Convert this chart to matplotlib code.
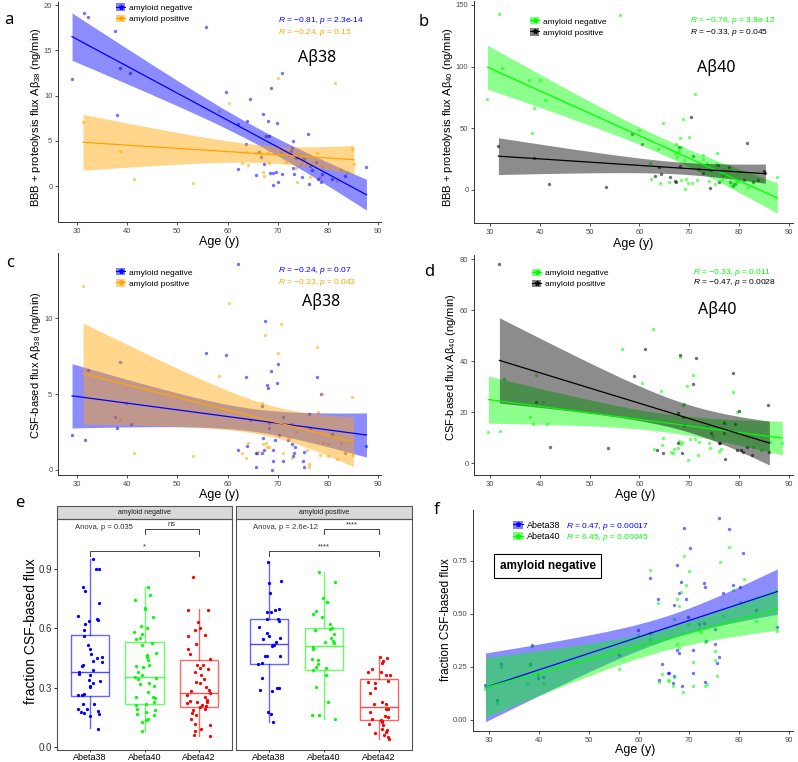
import numpy as np
import matplotlib
matplotlib.use("Agg")
import matplotlib.pyplot as plt
from matplotlib.patches import Patch, Rectangle
from matplotlib.lines import Line2D

W, H = 798, 762
T_CRIT = 2.01

BLUE = "#0000FF"
ORANGE = "#FFA500"
GREEN = "#00FF00"
BLACK = "#000000"
RED = "#FF0000"

# ---- panel a: BBB + proteolysis flux Abeta38 ----
a_neg_age = [29.0, 31.3, 32.1, 37.5, 38.0, 38.5, 40.6, 55.8, 59.7, 62.0, 62.1, 63.7, 63.8, 64.5,
             65.6, 66.2, 66.7, 67.1, 67.3, 67.6, 68.1, 68.2, 68.5, 68.6, 69.0, 69.1, 69.6, 69.9,
             70.1, 70.9, 70.9, 72.6, 72.9, 73.0, 73.1, 73.2, 73.6, 74.9, 75.2, 76.1, 76.2, 76.4,
             76.9, 77.7, 78.0, 78.7, 78.9, 80.9, 83.4, 87.7]
a_neg_val = [11.8, 19.1, 18.7, 17.2, 7.9, 13.1, 12.5, 17.6, 10.4, 6.9, 1.9, 4.7, 7.2, 9.6,
             1.2, 3.8, 3.2, 8.0, 2.5, 5.5, 7.2, 5.5, 1.5, 10.9, 0.1, 1.5, 1.6, 7.0,
             0.5, 12.5, 1.3, 3.9, 4.2, 5.0, 2.0, 1.4, 3.1, 1.0, 3.0, 5.8, 0.3, 2.2,
             1.8, 2.7, 0.8, 0.5, 1.4, 0.8, 1.1, 2.1]
a_pos_age = [31.2, 38.5, 41.4, 53.1, 58.3, 60.3, 62.8, 63.7, 64.1, 65.7, 66.6, 67.1, 67.2, 67.5,
             68.0, 68.3, 70.0, 70.7, 71.6, 72.2, 73.7, 73.9, 74.1, 74.6, 75.1, 75.6, 76.4, 77.9,
             78.4, 78.9, 81.4, 81.9, 82.7, 83.9, 84.9, 85.2]
a_pos_val = [7.1, 3.9, 0.8, 0.4, 8.3, 9.2, 2.6, 3.8, 2.4, 3.7, 3.6, 1.6, 1.1, 5.6,
             3.8, 2.6, 12.0, 3.8, 2.7, 3.4, 2.0, 0.5, 3.4, 2.5, 3.2, 2.5, 1.0, 3.7,
             1.0, 2.1, 11.4, 0.6, 1.8, 1.6, 4.1, 2.5]

# ---- panel b: BBB + proteolysis flux Abeta40 ----
b_neg_age = [29.5, 31.8, 32.5, 37.9, 38.4, 38.8, 40.1, 41.0, 56.1, 60.0, 62.2, 62.4, 63.8, 64.2,
             64.7, 65.9, 67.2, 67.3, 67.6, 67.9, 68.1, 68.3, 68.3, 68.8, 68.9, 69.2, 69.3, 69.8,
             70.0, 70.5, 71.1, 71.6, 72.8, 72.7, 73.6, 73.9, 75.2, 75.4, 75.6, 76.5, 76.8, 78.4,
             78.8, 79.3, 79.8, 81.9, 82.8, 87.7]
b_neg_val = [73.5, 143, 99, 89, 46.5, 66.5, 89.5, 72.7, 142, 48.6, 22, 9, 33, 6,
             54, 6.5, 30, 37, 27, 31.6, 42, 35, 8, 57.6, 24, 1, 9, 5.4,
             43, 6, 78, 8, 28.6, 25, 22, 7, 5, 20.8, 30, 8, 12, 4,
             6, 7.6, 6.8, 2.7, 6.8, 10.8]
b_pos_age = [31.7, 38.9, 41.8, 53.3, 58.6, 60.6, 63.2, 63.9, 64.3, 66.1, 67.2, 67.4, 67.9, 68.1,
             70.3, 70.8, 71.9, 72.7, 74.1, 74.3, 75.8, 76.0, 78.0, 78.2, 78.7, 79.2, 81.0, 81.7,
             82.8, 83.9, 85.0, 85.3]
b_pos_val = [35.7, 26, 5.1, 2.4, 45, 37.3, 11.6, 19, 12.7, 10.8, 7.6, 6.8, 34.9, 19.7,
             59, 27.6, 16.8, 14, 1.4, 16, 20.5, 6.5, 18.4, 6.8, 3.2, 4.6, 8, 37.8,
             6.8, 8, 15.7, 14]

# ---- panel c: CSF-based flux Abeta38 ----
c_neg_age = [29.0, 31.5, 32.1, 37.5, 38.0, 38.5, 39.8, 40.7, 55.8, 59.7, 62.0, 62.1, 63.7, 63.8,
             64.5, 65.6, 65.9, 66.8, 66.9, 67.1, 67.2, 67.5, 67.9, 68.1, 68.3, 68.3, 68.6, 69.0,
             69.1, 69.4, 69.8, 70.0, 70.2, 71.0, 71.0, 72.1, 72.7, 72.9, 73.1, 73.3, 73.4, 75.1,
             75.3, 76.2, 76.5, 77.9, 78.7, 80.9, 83.4, 87.7, 65.6, 68.9, 75.2]
c_neg_val = [2.3, 2.0, 6.6, 3.5, 2.8, 7.1, 4.4, 3.0, 7.7, 7.6, 13.6, 1.3, 6.1, 1.6,
             3.3, 1.1, 1.1, 1.1, 4.2, 2.1, 1.3, 9.8, 5.6, 5.4, 3.1, 2.8, 6.5, 0.6,
             1.3, 2.0, 5.7, 7.0, 2.3, 3.5, 0.6, 2.0, 3.0, 1.7, 0.9, 1.1, 1.5, 0.6,
             1.2, 3.7, 2.8, 6.1, 5.0, 2.4, 1.1, 1.6, 0.2, 0.0, 0.2]
c_pos_age = [31.2, 38.5, 41.4, 53.1, 58.3, 60.3, 62.8, 63.7, 64.1, 66.0, 66.8, 67.1, 67.5, 67.7,
             67.9, 68.3, 70.1, 70.7, 71.0, 72.3, 72.9, 73.6, 75.9, 76.2, 77.9, 78.0, 78.4, 78.9,
             79.0, 80.1, 80.1, 81.9, 82.7, 83.4, 84.9, 85.1, 76.3]
c_pos_val = [12.1, 3.3, 1.1, 0.9, 6.2, 11.0, 1.1, 0.8, 1.8, 1.2, 4.4, 1.7, 8.9, 1.8,
             1.5, 1.5, 7.7, 9.6, 1.1, 2.1, 0.8, 2.5, 1.3, 0.4, 8.1, 3.8, 1.0, 5.0,
             1.8, 1.7, 0.9, 0.7, 1.8, 1.1, 4.8, 1.0, 0.2]

# ---- panel d: CSF-based flux Abeta40 ----
d_neg_age = [29.7, 32.0, 32.9, 38.0, 38.7, 39.2, 40.6, 41.4, 56.6, 60.5, 62.8, 63.0, 64.4, 64.6,
             64.8, 66.4, 66.7, 66.9, 67.8, 68.0, 68.1, 68.3, 68.6, 68.8, 68.9, 69.5, 69.7, 70.1,
             70.7, 71.1, 71.7, 72.0, 73.6, 74.0, 74.1, 74.7, 76.0, 76.3, 76.9, 78.8, 79.5, 81.8,
             82.8, 84.4, 86.2, 88.7]
d_neg_val = [12.2, 12.8, 33, 18.0, 15.6, 34.8, 23.9, 15.6, 45, 31.6, 52.7, 5.5, 28.5, 7.2,
             9.8, 4.6, 4.2, 5.5, 5.9, 8.9, 41.5, 7.6, 8.4, 22.7, 23.3, 30.5, 1.3, 9.5,
             34.5, 9.4, 3.4, 8.5, 14.6, 7.8, 5.8, 10.8, 4.8, 5.5, 16.1, 27.8, 20.3, 10.5,
             6.5, 5.2, 8.5, 7.8]
d_pos_age = [31.9, 39.2, 42.0, 53.7, 59.0, 61.1, 63.6, 64.8, 67.7, 67.8, 68.1, 68.5, 68.8, 68.9,
             70.8, 71.4, 74.4, 76.0, 76.1, 77.0, 77.0, 77.1, 78.8, 79.2, 79.9, 79.5, 80.5, 80.8,
             81.6, 82.7, 85.8, 86.1]
d_pos_val = [78.2, 23.9, 6.5, 6.0, 34.1, 44.7, 5.2, 3.9, 19.6, 7.8, 42.5, 4.2, 18.0, 14.9,
             31, 41.2, 12, 7.8, 7.8, 11.8, 15.7, 1.8, 35.3, 15.4, 20.7, 5.2, 5.2, 4.4,
             6.5, 3.3, 22.9, 4.6]

# ---- panel e: fraction CSF-based flux, boxplots ----
box_labels = ["Abeta38", "Abeta40", "Abeta42"]
e_neg_38 = [0.951, 0.900, 0.900, 0.811, 0.788, 0.729, 0.664, 0.642, 0.648, 0.639, 0.622, 0.594,
            0.563, 0.516, 0.496, 0.470, 0.454, 0.450, 0.432, 0.428, 0.415, 0.411, 0.391, 0.378,
            0.369, 0.364, 0.336, 0.331, 0.324, 0.310, 0.302, 0.268, 0.263, 0.260, 0.218, 0.214,
            0.189, 0.189, 0.180, 0.175, 0.172, 0.167, 0.155, 0.091]
e_neg_40 = [0.811, 0.769, 0.744, 0.702, 0.698, 0.659, 0.610, 0.600, 0.583, 0.572, 0.550, 0.546,
            0.526, 0.513, 0.474, 0.467, 0.454, 0.437, 0.415, 0.410, 0.403, 0.378, 0.361, 0.352,
            0.347, 0.344, 0.324, 0.319, 0.310, 0.277, 0.251, 0.251, 0.246, 0.226, 0.218, 0.209,
            0.192, 0.184, 0.175, 0.167, 0.159, 0.142, 0.133, 0.125, 0.081]
e_neg_42 = [0.862, 0.693, 0.693, 0.634, 0.600, 0.594, 0.567, 0.560, 0.521, 0.496, 0.470, 0.445,
            0.415, 0.415, 0.398, 0.395, 0.381, 0.361, 0.344, 0.327, 0.324, 0.302, 0.285, 0.280,
            0.273, 0.263, 0.251, 0.239, 0.234, 0.229, 0.226, 0.221, 0.212, 0.206, 0.201, 0.192,
            0.184, 0.172, 0.159, 0.142, 0.116, 0.108, 0.091, 0.078, 0.057, 0.054]
e_pos_38 = [0.938, 0.841, 0.828, 0.777, 0.698, 0.695, 0.685, 0.681, 0.648, 0.648, 0.639, 0.607,
            0.577, 0.563, 0.550, 0.546, 0.530, 0.516, 0.513, 0.509, 0.462, 0.462, 0.459, 0.425,
            0.420, 0.347, 0.297, 0.297, 0.285, 0.282, 0.175, 0.164, 0.125]
e_pos_40 = [0.884, 0.836, 0.752, 0.735, 0.732, 0.690, 0.673, 0.656, 0.622, 0.600, 0.597, 0.589,
            0.572, 0.550, 0.538, 0.530, 0.526, 0.504, 0.496, 0.445, 0.437, 0.420, 0.403, 0.398,
            0.391, 0.361, 0.302, 0.226, 0.162, 0.159, 0.138]
e_pos_42 = [0.457, 0.449, 0.432, 0.425, 0.395, 0.381, 0.378, 0.364, 0.361, 0.331, 0.327, 0.324,
            0.297, 0.271, 0.229, 0.218, 0.214, 0.192, 0.189, 0.175, 0.155, 0.150, 0.142, 0.133,
            0.128, 0.125, 0.116, 0.108, 0.091, 0.083, 0.074, 0.071, 0.057, 0.049, 0.040]
# whisker low, q1, median, q3, whisker high
e_neg_stats = [(0.093, 0.255, 0.378, 0.567, 0.951),
               (0.081, 0.214, 0.351, 0.533, 0.811),
               (0.054, 0.199, 0.273, 0.437, 0.696)]
e_pos_stats = [(0.125, 0.420, 0.523, 0.648, 0.938),
               (0.138, 0.391, 0.511, 0.604, 0.884),
               (0.040, 0.135, 0.200, 0.341, 0.457)]

# ---- panel f: fraction CSF-based flux vs age, amyloid negative ----
f_age = [29.3, 31.7, 32.5, 38.2, 38.7, 39.9, 40.8, 55.95, 59.9, 62.2, 62.2, 63.9, 64.0, 64.6,
         65.8, 66.1, 66.9, 67.0, 67.1, 67.6, 67.7, 68.1, 68.1, 68.4, 68.7, 69.1, 69.5, 69.8,
         70.3, 70.9, 70.9, 72.1, 73.1, 73.1, 73.3, 73.5, 73.3, 75.2, 75.3, 75.6, 76.1, 76.1,
         76.8, 78.1, 78.8, 80.2, 80.8, 83.5, 87.7]
f_38 = [0.165, 0.094, 0.264, 0.264, 0.354, 0.198, 0.200, 0.307, 0.423, 0.407, 0.667, 0.568, 0.187, 0.261,
        0.219, 0.219, 0.173, 0.539, 0.206, 0.327, 0.730, 0.314, 0.599, 0.651, 0.159, 0.903, 0.568, 0.484,
        0.811, 0.327, 0.219, 0.450, 0.458, 0.646, 0.627, 0.371, 0.178, 0.358, 0.429, 0.266, 0.297, 0.950,
        0.599, 0.901, 0.638, 0.627, 0.788, 0.519, 0.439]
f_age40 = [29.3, 31.7, 32.5, 37.7, 38.2, 38.7, 39.9, 40.8, 55.95, 59.9, 62.2, 62.2, 63.9, 64.0,
           64.6, 65.8, 66.1, 67.0, 66.9, 67.1, 67.6, 67.7, 68.1, 68.1, 68.4, 68.8, 69.1, 69.5,
           69.8, 70.1, 70.9, 70.9, 72.1, 72.5, 73.3, 73.3, 73.6, 75.2, 75.3, 75.6, 76.2, 76.8,
           78.1, 78.8, 80.2, 81.0, 83.5, 87.7]
f_40 = [0.143, 0.080, 0.250, 0.170, 0.256, 0.346, 0.211, 0.173, 0.241, 0.398, 0.379, 0.706, 0.550, 0.179,
        0.217, 0.187, 0.182, 0.475, 0.157, 0.203, 0.355, 0.569, 0.535, 0.340, 0.602, 0.130, 0.772, 0.634,
        0.450, 0.704, 0.270, 0.157, 0.421, 0.412, 0.368, 0.157, 0.170, 0.322, 0.283, 0.206, 0.745, 0.489,
        0.814, 0.612, 0.555, 0.664, 0.464, 0.418]


def add_px_axes(fig, left, top, right, bottom):
    return fig.add_axes([left / W, 1 - bottom / H, (right - left) / W, (bottom - top) / H])


def ftext(fig, x, y, s, **kw):
    return fig.text(x / W, 1 - y / H, s, **kw)


def fit_band(x, y):
    x = np.asarray(x, float)
    y = np.asarray(y, float)
    grid = np.linspace(x.min(), x.max(), 80)
    slope, icpt = np.polyfit(x, y, 1)
    n = len(x)
    resid = y - (icpt + slope * x)
    s = np.sqrt(np.sum(resid ** 2) / (n - 2))
    xm = x.mean()
    se = s * np.sqrt(1 / n + (grid - xm) ** 2 / np.sum((x - xm) ** 2))
    fit = icpt + slope * grid
    return grid, fit, fit - T_CRIT * se, fit + T_CRIT * se


def style_axes(ax, xlim, ylim, xticks, yticks, yfmt=None):
    ax.set_xlim(*xlim)
    ax.set_ylim(*ylim)
    ax.set_xticks(xticks)
    ax.set_yticks(yticks)
    if yfmt:
        ax.set_yticklabels([yfmt.format(v) for v in yticks])
    for side in ["top", "right"]:
        ax.spines[side].set_visible(False)
    for side in ["left", "bottom"]:
        ax.spines[side].set_color("#333333")
        ax.spines[side].set_linewidth(0.7)
    ax.tick_params(labelsize=5.5, labelcolor="#4D4D4D", color="#333333", length=2, width=0.6, pad=2)


def scatter_fit(ax, groups):
    for age, val, col in groups:
        ax.scatter(age, val, s=6, color=col, alpha=0.55, linewidths=0, zorder=1)
    for age, val, col in groups:
        grid, fit, lo, hi = fit_band(age, val)
        ax.fill_between(grid, lo, hi, color=col, alpha=0.45, linewidth=0, zorder=2)
    for age, val, col in groups:
        grid, fit, lo, hi = fit_band(age, val)
        ax.plot(grid, fit, color=col, lw=0.9, zorder=3)


def add_legend(fig, ax, x, y, entries, fs=6):
    handles = [(Patch(facecolor=c, alpha=0.5, edgecolor="none"),
                Line2D([], [], color=c, lw=0.8, marker="*", ms=3.5)) for _, c in entries]
    ax.legend(handles, [lab for lab, _ in entries], loc="upper left",
              bbox_to_anchor=(x / W, 1 - y / H), bbox_transform=fig.transFigure,
              frameon=False, fontsize=fs, handlelength=1.1, handleheight=1.0,
              labelspacing=0.3, handletextpad=0.45, borderpad=0, borderaxespad=0)


def box_panel(ax, stats, points, strip, anova, anova_x, sig_a, sig_b, rng, show_y):
    cols = [BLUE, GREEN, RED]
    bstats = []
    for wl, q1, med, q3, wh in stats:
        bstats.append({"whislo": wl, "q1": q1, "med": med, "q3": q3, "whishi": wh, "fliers": []})
    parts = ax.bxp(bstats, positions=[1, 2, 3], widths=0.7, showfliers=False, showcaps=False,
                   patch_artist=True)
    for i, c in enumerate(cols):
        parts["boxes"][i].set(facecolor="none", edgecolor=c, alpha=0.6, linewidth=1.0)
        parts["medians"][i].set(color=c, alpha=0.7, linewidth=1.0)
        for w in parts["whiskers"][2 * i:2 * i + 2]:
            w.set(color=c, alpha=0.6, linewidth=1.0)
    for i, (pts, c) in enumerate(zip(points, cols)):
        xs = i + 1 + rng.uniform(-0.22, 0.22, len(pts))
        ax.scatter(xs, pts, s=5.5, color=c, linewidths=0, zorder=3)

    ax.set_xlim(0.4, 3.6)
    ax.set_ylim(-0.0166, 1.154)
    ax.set_xticks([1, 2, 3])
    ax.set_xticklabels(box_labels)
    ax.set_yticks([0.0, 0.3, 0.6, 0.9])
    ax.set_yticklabels(["0.0", "0.3", "0.6", "0.9"])
    for sp in ax.spines.values():
        sp.set_color("#555555")
        sp.set_linewidth(0.8)
    ax.tick_params(axis="x", labelsize=6.5, labelcolor="black", length=1.5, width=0.6, pad=0.5)
    ax.tick_params(axis="y", labelsize=7, labelcolor="#333333", length=2, width=0.6, pad=1.5,
                   labelleft=show_y, left=show_y)

    strip_h = 13 / 232
    ax.add_patch(Rectangle((0, 1), 1, strip_h, transform=ax.transAxes, clip_on=False,
                           facecolor="#D9D9D9", edgecolor="#555555", linewidth=0.8))
    ax.text(0.5, 1 + strip_h / 2, strip, transform=ax.transAxes, ha="center", va="center",
            fontsize=5, color="#1A1A1A")

    bc = "#444444"
    ax.plot([2, 2, 3, 3], [1.076, 1.103, 1.103, 1.076], color=bc, lw=0.7)
    ax.plot([1, 1, 3, 3], [0.965, 0.992, 0.992, 0.965], color=bc, lw=0.7)
    ax.text(2.5, 1.108, sig_a, ha="center", va="bottom", fontsize=5.5, color="#333333")
    ax.text(2.0, 0.997, sig_b, ha="center", va="bottom", fontsize=5.5, color="#333333")
    ax.text(anova_x, 1.113, anova, ha="center", va="center", fontsize=5.5, color="#333333")


def main():
    plt.rcParams["font.family"] = ["Liberation Sans", "DejaVu Sans"]
    plt.rcParams["mathtext.fontset"] = "custom"
    plt.rcParams["mathtext.rm"] = "Liberation Sans"
    plt.rcParams["mathtext.it"] = "Liberation Sans:italic"

    fig = plt.figure(figsize=(W / 100, H / 100), dpi=100)
    big = ["Noto Sans", "DejaVu Sans"]
    age_ticks = [30, 40, 50, 60, 70, 80, 90]

    # a
    ax_a = add_px_axes(fig, 58, 2, 381, 222)
    scatter_fit(ax_a, [(a_neg_age, a_neg_val, BLUE), (a_pos_age, a_pos_val, ORANGE)])
    style_axes(ax_a, (26.2, 90.6), (-3.95, 20.35), age_ticks, [0, 5, 10, 15, 20])
    add_legend(fig, ax_a, 116, 3.5, [("amyloid negative", BLUE), ("amyloid positive", ORANGE)])
    ftext(fig, 278, 20, "$R$ = \u22120.81, $p$ = 2.3e-14", color=BLUE, fontsize=6, va="center")
    ftext(fig, 278, 32, "$R$ = \u22120.24, $p$ = 0.15", color=ORANGE, fontsize=6, va="center")
    ftext(fig, 317, 57, "A\u03b238", fontsize=11.5, family=big, ha="center", va="center")
    ftext(fig, 36, 117, "BBB + proteolysis flux A\u03b2$_{38}$ (ng/min)", fontsize=8,
          rotation=90, ha="center", va="center")
    ftext(fig, 219, 241.5, "Age (y)", fontsize=9, ha="center", va="center")
    ftext(fig, 9, 20, "a", fontsize=12, family=big, ha="center", va="center")

    # b
    ax_b = add_px_axes(fig, 474, 1, 793, 223)
    scatter_fit(ax_b, [(b_neg_age, b_neg_val, GREEN), (b_pos_age, b_pos_val, BLACK)])
    style_axes(ax_b, (26.8, 90.84), (-26.8, 153.2), age_ticks, [0, 50, 100, 150])
    add_legend(fig, ax_b, 530, 17, [("amyloid negative", GREEN), ("amyloid positive", BLACK)])
    ftext(fig, 690, 21, "$R$ = \u22120.76, $p$ = 3.9e-12", color=GREEN, fontsize=6, va="center")
    ftext(fig, 690, 32.5, "$R$ = \u22120.33, $p$ = 0.045", color=BLACK, fontsize=6, va="center")
    ftext(fig, 716, 68, "A\u03b240", fontsize=11.5, family=big, ha="center", va="center")
    ftext(fig, 448, 117, "BBB + proteolysis flux A\u03b2$_{40}$ (ng/min)", fontsize=8,
          rotation=90, ha="center", va="center")
    ftext(fig, 633, 244, "Age (y)", fontsize=9, ha="center", va="center")
    ftext(fig, 424, 22, "b", fontsize=12, family=big, ha="center", va="center")

    # c
    ax_c = add_px_axes(fig, 58, 253, 381, 475)
    scatter_fit(ax_c, [(c_neg_age, c_neg_val, BLUE), (c_pos_age, c_pos_val, ORANGE)])
    style_axes(ax_c, (26.2, 90.6), (-0.33, 14.3), age_ticks, [0, 5, 10])
    add_legend(fig, ax_c, 116, 268, [("amyloid negative", BLUE), ("amyloid positive", ORANGE)])
    ftext(fig, 278, 271, "$R$ = \u22120.24, $p$ = 0.07", color=BLUE, fontsize=6, va="center")
    ftext(fig, 278, 282.5, "$R$ = \u22120.33, $p$ = 0.043", color=ORANGE, fontsize=6, va="center")
    ftext(fig, 321, 302, "A\u03b238", fontsize=11.5, family=big, ha="center", va="center")
    ftext(fig, 36, 365, "CSF-based flux A\u03b2$_{38}$ (ng/min)", fontsize=8,
          rotation=90, ha="center", va="center")
    ftext(fig, 219, 495, "Age (y)", fontsize=9, ha="center", va="center")
    ftext(fig, 10, 263, "c", fontsize=12, family=big, ha="center", va="center")

    # d
    ax_d = add_px_axes(fig, 474, 255, 793, 475)
    scatter_fit(ax_d, [(d_neg_age, d_neg_val, GREEN), (d_pos_age, d_pos_val, BLACK)])
    style_axes(ax_d, (26.8, 90.84), (-4.6, 81.7), age_ticks, [0, 20, 40, 60, 80])
    add_legend(fig, ax_d, 532, 268.5, [("amyloid negative", GREEN), ("amyloid positive", BLACK)])
    ftext(fig, 693, 272, "$R$ = \u22120.33, $p$ = 0.011", color=GREEN, fontsize=6, va="center")
    ftext(fig, 693, 283, "$R$ = \u22120.47, $p$ = 0.0028", color=BLACK, fontsize=6, va="center")
    ftext(fig, 717, 310, "A\u03b240", fontsize=11.5, family=big, ha="center", va="center")
    ftext(fig, 451, 367, "CSF-based flux A\u03b2$_{40}$ (ng/min)", fontsize=8,
          rotation=90, ha="center", va="center")
    ftext(fig, 635, 495, "Age (y)", fontsize=9, ha="center", va="center")
    ftext(fig, 429, 272, "d", fontsize=12, family=big, ha="center", va="center")

    # e
    rng = np.random.default_rng(7)
    ax_e1 = add_px_axes(fig, 57, 519, 232, 750)
    ax_e2 = add_px_axes(fig, 236, 519, 412, 750)
    box_panel(ax_e1, e_neg_stats, [e_neg_38, e_neg_40, e_neg_42], "amyloid negative",
              "Anova, p = 0.035", 1.265, "ns", "*", rng, True)
    box_panel(ax_e2, e_pos_stats, [e_pos_38, e_pos_40, e_pos_42], "amyloid positive",
              "Anova, p = 2.6e-12", 1.296, "****", "****", rng, False)
    ftext(fig, 31, 631, "fraction CSF-based flux", fontsize=10, rotation=90,
          ha="center", va="center")
    ftext(fig, 20, 503, "e", fontsize=12, family=big, ha="center", va="center")

    # f
    ax_f = add_px_axes(fig, 473, 510, 793, 731)
    scatter_fit(ax_f, [(f_age, f_38, BLUE), (f_age40, f_40, GREEN)])
    style_axes(ax_f, (26.8, 90.84), (-0.054, 0.99), age_ticks, [0.0, 0.25, 0.5, 0.75], "{:.2f}")
    add_legend(fig, ax_f, 513, 520.5, [("Abeta38", BLUE), ("Abeta40", GREEN)], fs=6.5)
    ftext(fig, 566, 526, "$R$ = 0.47, $p$ = 0.00017", color=BLUE, fontsize=6, va="center")
    ftext(fig, 566, 537.5, "$R$ = 0.45, $p$ = 0.00045", color=GREEN, fontsize=6, va="center")
    ftext(fig, 547.5, 566, "amyloid negative", fontsize=8.5, fontweight="bold", ha="center",
          va="center", bbox=dict(boxstyle="square,pad=0.5", facecolor="white",
                                 edgecolor="black", linewidth=0.8))
    ftext(fig, 446, 620, "fraction CSF-based flux", fontsize=8.5, rotation=90,
          ha="center", va="center")
    ftext(fig, 635, 750, "Age (y)", fontsize=9, ha="center", va="center")
    ftext(fig, 437, 510, "f", fontsize=12, family=big, ha="center", va="center")

    fig.savefig("out.png", dpi=100)
    plt.close(fig)


if __name__ == "__main__":
    main()
